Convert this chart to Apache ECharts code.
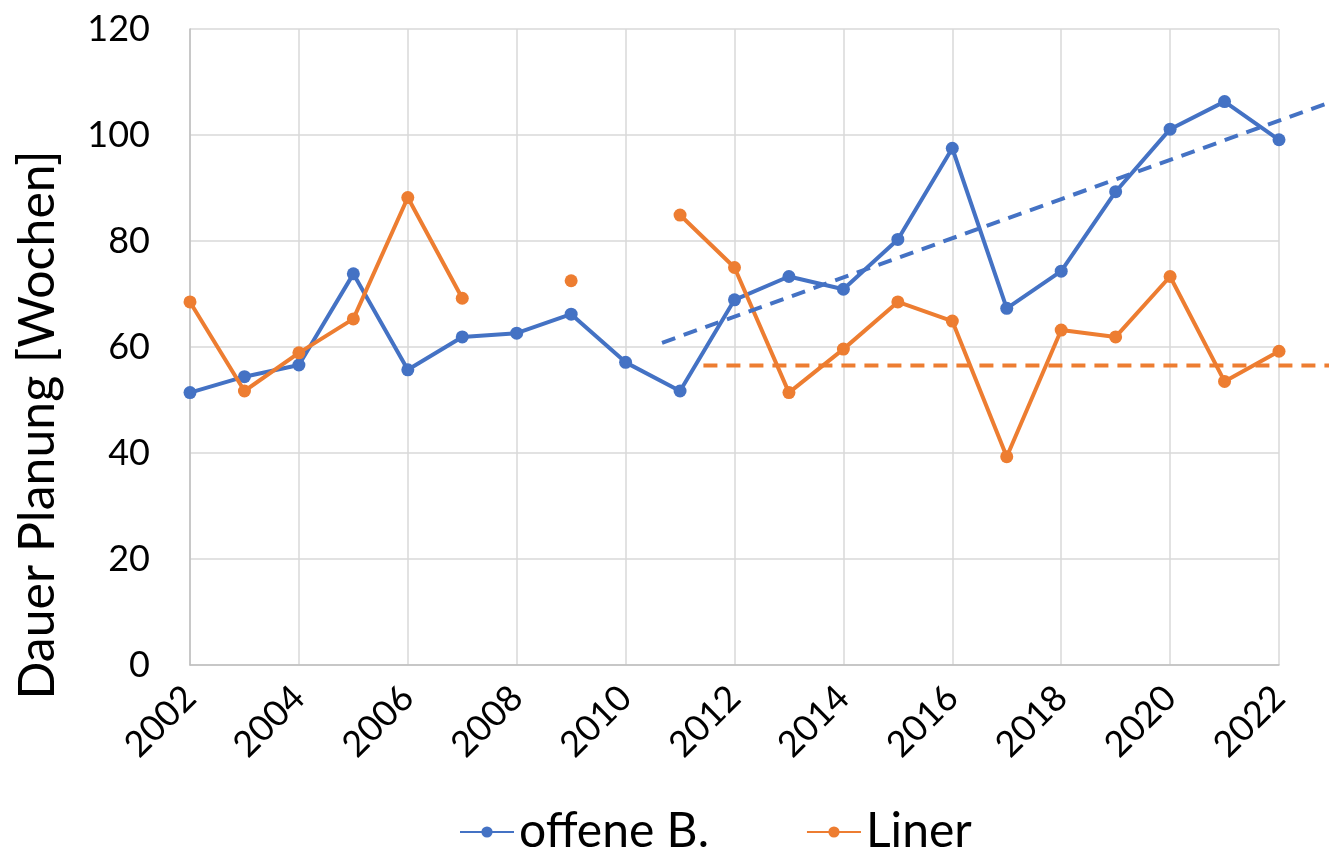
<!DOCTYPE html>
<html>
<head>
<meta charset="utf-8">
<script src="https://cdn.jsdelivr.net/npm/echarts@6/dist/echarts.min.js"></script>
<style>
html,body{margin:0;padding:0;background:#fff;}
#chart{width:1329px;height:852px;}
</style>
</head>
<body>
<div id="chart"></div>
<script>
const years = [2002,2003,2004,2005,2006,2007,2008,2009,2010,2011,2012,2013,2014,2015,2016,2017,2018,2019,2020,2021,2022];
const offeneB = [51.4,54.4,56.6,73.8,55.7,61.9,62.6,66.2,57.1,51.7,68.9,73.3,70.9,80.3,97.5,67.3,74.3,89.3,101.1,106.3,99.1];
const liner = [68.5,51.7,58.9,65.3,88.2,69.2,null,72.5,null,84.9,75.0,51.4,59.6,68.5,64.9,39.3,63.2,61.9,73.3,53.5,59.2];
const trendBlueX = [2010.67, 2022.92];
const trendBlueY = [60.8, 106.1];
const trendOrangeX = [2011.43, 2022.92];
const trendOrangeY = [56.5, 56.5];
const seriesNames = ['offene B.', 'Liner'];
const yTicks = {min: 0, max: 120, interval: 20};
const xTicks = {min: 2002, max: 2022, interval: 2};
const xTrendMax = 2022.92; // trendlines run on past the plot area to the chart edge

const BLUE = '#4472C4', ORANGE = '#ED7D31';
const FONT = 'Lato';
const pairs = (xs, ys) => xs.map((x, i) => [x, ys[i]]);

const chart = echarts.init(document.getElementById('chart'), null, {renderer: 'canvas'});
chart.setOption({
  animation: false,
  backgroundColor: '#fff',
  textStyle: {fontFamily: FONT},
  grid: [
    {left: 190, right: 50, top: 29, bottom: 187, outerBoundsMode: 'none', containLabel: false},
    {left: 190, right: 0, top: 29, bottom: 187, outerBoundsMode: 'none', containLabel: false}
  ],
  legend: {
    data: seriesNames,
    left: 459, top: 808, padding: 0,
    itemWidth: 54, itemHeight: 14, itemGap: 97,
    textStyle: {fontFamily: FONT, fontSize: 48, color: '#000'}
  },
  xAxis: [{
    type: 'value', gridIndex: 0, min: xTicks.min, max: xTicks.max, interval: xTicks.interval,
    axisLine: {show: true, lineStyle: {color: '#bfbfbf', width: 1.5}},
    axisTick: {show: false},
    splitLine: {show: true, lineStyle: {color: '#d9d9d9', width: 1.5}},
    axisLabel: {rotate: 45, margin: 27, fontSize: 36, color: '#000', fontFamily: FONT,
      formatter: v => String(v)}
  }, {
    type: 'value', gridIndex: 1, min: xTicks.min, max: xTrendMax, show: false,
    splitLine: {show: false}
  }],
  yAxis: [{
    type: 'value', gridIndex: 0, min: yTicks.min, max: yTicks.max, interval: yTicks.interval,
    name: 'Dauer Planung [Wochen]', nameLocation: 'middle', nameGap: 127,
    nameTextStyle: {fontSize: 50, color: '#000', fontFamily: FONT, padding: [0, 156, 0, 0]},
    axisLine: {show: true, lineStyle: {color: '#bfbfbf', width: 1.5}},
    axisTick: {show: false},
    splitLine: {show: true, lineStyle: {color: '#d9d9d9', width: 1.5}},
    axisLabel: {margin: 40, fontSize: 36, color: '#000', fontFamily: FONT}
  }, {
    type: 'value', gridIndex: 1, min: yTicks.min, max: yTicks.max, show: false,
    splitLine: {show: false}
  }],
  series: [
    {name: seriesNames[0], type: 'line', data: pairs(years, offeneB), color: BLUE,
     symbol: 'circle', symbolSize: 13, showAllSymbol: true,
     lineStyle: {width: 4, color: BLUE}, itemStyle: {color: BLUE}, z: 2},
    {name: seriesNames[1], type: 'line', data: pairs(years, liner), color: ORANGE,
     symbol: 'circle', symbolSize: 13, showAllSymbol: true, connectNulls: false,
     lineStyle: {width: 4, color: ORANGE}, itemStyle: {color: ORANGE}, z: 3},
    {type: 'line', xAxisIndex: 1, yAxisIndex: 1, data: pairs(trendBlueX, trendBlueY), symbol: 'none',
     lineStyle: {width: 4, color: BLUE, type: [14, 9]}, z: 4, silent: true},
    {type: 'line', xAxisIndex: 1, yAxisIndex: 1, data: pairs(trendOrangeX, trendOrangeY), symbol: 'none',
     lineStyle: {width: 4, color: ORANGE, type: [14, 9]}, z: 4, silent: true}
  ]
});
</script>
</body>
</html>
